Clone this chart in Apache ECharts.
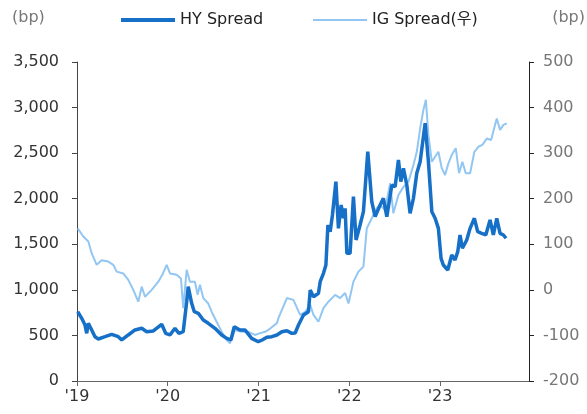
<!DOCTYPE html>
<html>
<head>
<meta charset="utf-8">
<script src="https://cdn.jsdelivr.net/npm/echarts@6/dist/echarts.min.js"></script>
<style>
  html, body { margin: 0; padding: 0; background: #fff; }
  #chart { width: 587px; height: 414px; }
</style>
</head>
<body>
<div id="chart"></div>
<script>
// HY spread (left axis, bp)
const hyYears = [2019.008,2019.052,2019.088,2019.107,2019.125,2019.162,2019.198,2019.235,2019.309,2019.382,2019.455,2019.493,2019.565,2019.639,2019.713,2019.768,2019.841,2019.933,2019.977,2020.025,2020.080,2020.124,2020.171,2020.209,2020.226,2020.264,2020.293,2020.337,2020.392,2020.447,2020.521,2020.595,2020.650,2020.697,2020.733,2020.796,2020.851,2020.925,2020.998,2021.039,2021.090,2021.145,2021.201,2021.256,2021.311,2021.366,2021.402,2021.439,2021.494,2021.549,2021.568,2021.604,2021.659,2021.678,2021.714,2021.741,2021.763,2021.788,2021.813,2021.851,2021.879,2021.909,2021.934,2021.953,2021.972,2022.008,2022.045,2022.074,2022.118,2022.155,2022.203,2022.247,2022.284,2022.339,2022.375,2022.413,2022.468,2022.504,2022.541,2022.567,2022.596,2022.633,2022.669,2022.706,2022.743,2022.780,2022.835,2022.871,2022.909,2022.945,2022.981,2023.011,2023.036,2023.085,2023.129,2023.165,2023.195,2023.220,2023.246,2023.294,2023.331,2023.378,2023.415,2023.459,2023.504,2023.551,2023.587,2023.625,2023.661,2023.698,2023.727];
const hyValues = [760,688,614,523,633,560,486,461,486,512,486,450,505,560,578,541,549,622,523,505,578,523,541,870,1035,852,760,743,669,633,578,505,468,450,596,560,560,468,431,450,479,486,505,541,552,523,527,614,724,760,998,925,962,1090,1182,1273,1712,1638,1821,2187,1675,1931,1785,1895,1401,1401,2022,1547,1712,1858,2516,1967,1803,1931,2004,1803,2150,2132,2425,2187,2334,2150,1840,2004,2279,2406,2828,2406,1858,1785,1675,1346,1273,1218,1383,1328,1419,1602,1456,1547,1675,1785,1638,1620,1602,1767,1602,1785,1620,1602,1566];

// IG spread (right axis, bp)
const igYears = [2019.008,2019.069,2019.125,2019.162,2019.217,2019.272,2019.345,2019.400,2019.437,2019.510,2019.565,2019.620,2019.675,2019.713,2019.749,2019.823,2019.896,2019.940,2019.988,2020.025,2020.099,2020.146,2020.171,2020.209,2020.245,2020.300,2020.330,2020.355,2020.392,2020.447,2020.484,2020.539,2020.595,2020.650,2020.686,2020.741,2020.815,2020.888,2020.961,2021.017,2021.072,2021.127,2021.201,2021.218,2021.311,2021.383,2021.457,2021.512,2021.568,2021.604,2021.659,2021.714,2021.769,2021.843,2021.898,2021.953,2021.990,2022.045,2022.100,2022.155,2022.192,2022.247,2022.302,2022.339,2022.394,2022.449,2022.485,2022.541,2022.596,2022.651,2022.706,2022.743,2022.780,2022.816,2022.843,2022.871,2022.909,2022.945,2022.981,2023.019,2023.055,2023.091,2023.129,2023.173,2023.209,2023.246,2023.283,2023.331,2023.378,2023.422,2023.466,2023.515,2023.562,2023.606,2023.625,2023.661,2023.698,2023.735];
const igValues = [135,117,106,80,55,65,62,55,40,36,22,0,-26,7,-15,0,18,33,55,36,33,25,-40,44,18,18,-11,11,-18,-30,-48,-70,-92,-110,-117,-88,-92,-92,-99,-95,-92,-85,-73,-62,-18,-22,-55,-48,-33,-55,-70,-40,-26,-11,-18,-7,-30,18,40,51,135,157,179,186,175,234,168,208,226,237,274,303,354,395,417,340,281,292,303,267,252,277,296,311,256,281,256,256,303,314,318,332,329,362,376,351,362,365];

const FONT = '"DejaVu Sans", "Noto Sans CJK KR", sans-serif'
const YEAR_MS = 365.25 * 24 * 3600 * 1000

function toTime (y) {
  const whole = Math.floor(y)
  return Date.UTC(whole, 0, 1) + (y - whole) * YEAR_MS
}

const chart = echarts.init(document.getElementById('chart'))
const option = {
  animation: false,
  textStyle: { fontFamily: FONT },
  grid: { left: 77, right: 58, top: 62, bottom: 33 },
  legend: [
    {
      data: ['HY Spread'],
      left: 121, top: 12, padding: 0,
      icon: 'rect', itemWidth: 54, itemHeight: 4,
      textStyle: { fontSize: 16, color: '#222', fontFamily: FONT }
    },
    {
      data: ['IG Spread(우)'],
      left: 313, top: 12, padding: 0,
      icon: 'rect', itemWidth: 54, itemHeight: 2,
      textStyle: { fontSize: 16, color: '#222', fontFamily: FONT }
    }
  ],
  graphic: [
    { type: 'text', left: 12, top: 10, style: { text: '(bp)', fontSize: 16, fill: '#777', fontFamily: FONT } },
    { type: 'text', right: 2, top: 10, style: { text: '(bp)', fontSize: 16, fill: '#777', fontFamily: FONT } }
  ],
  xAxis: {
    type: 'time',
    min: toTime(2019),
    max: toTime(2023.98),
    minInterval: 365 * 24 * 3600 * 1000,
    maxInterval: 366 * 24 * 3600 * 1000,
    axisLine: { lineStyle: { color: '#666', width: 1 } },
    axisTick: { show: true, length: 5, lineStyle: { color: '#666' } },
    axisLabel: {
      color: '#333', fontSize: 16, margin: 8, showMaxLabel: false,
      formatter: v => "'" + String(new Date(v).getUTCFullYear()).slice(2)
    },
    splitLine: { show: false }
  },
  yAxis: [
    {
      type: 'value', min: 0, max: 3500, interval: 500,
      axisLine: { show: true, lineStyle: { color: '#444' } },
      axisTick: { show: true, length: 5, lineStyle: { color: '#444' } },
      axisLabel: { color: '#333', fontSize: 16, margin: 18, formatter: v => v.toLocaleString('en-US') },
      splitLine: { show: false }
    },
    {
      type: 'value', min: -200, max: 500, interval: 100,
      axisLine: { show: true, lineStyle: { color: '#222' } },
      axisTick: { show: true, length: 5, lineStyle: { color: '#222' } },
      axisLabel: { color: '#777', fontSize: 16, margin: 14 },
      splitLine: { show: false }
    }
  ],
  series: [
    {
      name: 'HY Spread',
      type: 'line',
      yAxisIndex: 0,
      z: 3,
      showSymbol: false,
      color: '#1670c8',
      lineStyle: { width: 3.5, color: '#1670c8' },
      data: hyYears.map((y, i) => [toTime(y), hyValues[i]])
    },
    {
      name: 'IG Spread(우)',
      type: 'line',
      yAxisIndex: 1,
      z: 2,
      showSymbol: false,
      color: '#92c6f3',
      lineStyle: { width: 2, color: '#92c6f3' },
      data: igYears.map((y, i) => [toTime(y), igValues[i]])
    }
  ]
}
chart.setOption(option)
</script>
</body>
</html>
